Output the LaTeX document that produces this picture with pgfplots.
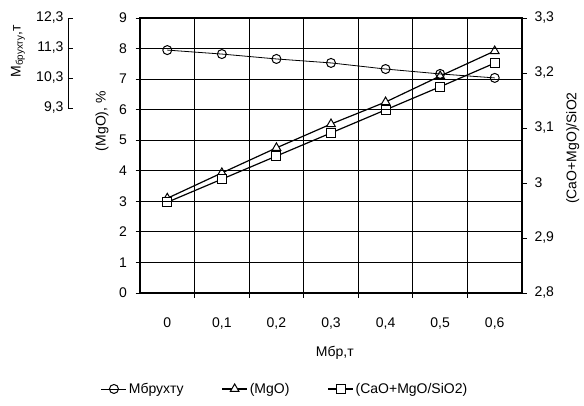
\documentclass[border=0pt]{standalone}
\usepackage{fontspec}
\setmainfont{Liberation Sans}
\usepackage{pgfplots}
\pgfplotsset{compat=1.18}

% x = 0..6 stands for Mбр = 0..0.6 t
\pgfplotstableread{
x  m      mgo   basic
0  11.25  3.10  2.965
1  11.12  3.93  3.007
2  10.96  4.75  3.049
3  10.83  5.53  3.091
4  10.63  6.25  3.133
5  10.47  7.10  3.175
6  10.34  7.92  3.218
}\data

\tikzset{txt/.style={font=\fontsize{14}{16}\selectfont}}
\pgfplotsset{
  box/.style={scale only axis, width=382pt, height=275pt,
    xmin=-0.5, xmax=6.5, at={(140pt,-293pt)}, anchor=south west},
  sC/.style={black, line width=0.8pt, mark=o, mark size=4.5pt, mark options={solid, fill=white, line width=1pt}},
  sT/.style={black, line width=1.2pt, mark=triangle*, mark size=5pt, mark options={solid, fill=white, line width=1pt}},
  sS/.style={black, line width=1.2pt, mark=square*, mark size=4.5pt, mark options={solid, fill=white, line width=1pt}},
}

\begin{document}
\begin{tikzpicture}
\path[use as bounding box] (0pt,0pt) rectangle (584pt,-406pt);

% main axis, (MgO) %
\begin{axis}[box, ymin=0, ymax=9,
  xtick={0.5,1.5,2.5,3.5,4.5,5.5}, xticklabels={},
  extra x ticks={0,1,2,3,4,5,6},
  extra x tick labels={0,{0,1},{0,2},{0,3},{0,4},{0,5},{0,6}},
  extra x tick style={major tick length=0pt},
  ytick={0,...,9},
  axis line style={line width=1.3pt},
  tick pos=left, tick align=outside,
  major tick length=4.5pt,
  tick style={black, line width=0.8pt},
  ticklabel style={txt},
  xticklabel style={yshift=-21pt},
  yticklabel style={xshift=-5pt},
  /pgf/number format/assume math mode=true,
  xlabel={Мбр,т}, ylabel={(MgO), \%},
  every axis x label/.style={at={(axis description cs:0.51,-0.218)}, anchor=center, txt},
  every axis y label/.style={at={(axis description cs:-0.0995,0.625)}, anchor=center, rotate=90, txt},
  legend style={at={(0.38,-0.349)}, anchor=center, draw=none, fill=none,
    legend columns=3, txt, /tikz/every even column/.append style={column sep=36pt}},
  legend cell align=left,
  legend image code/.code={
    \draw[mark repeat=2,mark phase=2,#1] plot coordinates {(0pt,0pt) (12.5pt,0pt) (25pt,0pt)};},
]
\addlegendimage{sC}
\addlegendentry{Мбрухту}
\addplot[sT] table[x=x, y=mgo] {\data};
\addlegendentry{(MgO)}
\addlegendimage{sS}
\addlegendentry{(CaO+MgO/SiO2)}
\end{axis}

% right axis, (CaO+MgO)/SiO2
\begin{axis}[box, ymin=2.8, ymax=3.3,
  axis x line=none, axis y line*=right,
  ytick={2.8,2.9,3.0,3.1,3.2,3.3},
  yticklabels={{2,8},{2,9},3,{3,1},{3,2},{3,3}},
  axis line style={line width=2.6pt},
  tick align=outside, major tick length=5pt,
  tick style={black, line width=0.8pt},
  ticklabel style={txt},
  yticklabel style={xshift=4pt},
  ylabel={(CaO+MgO)/SiO2},
  every axis y label/.style={at={(axis description cs:1.133,0.527)}, anchor=center, rotate=90, txt},
]
\addplot[sS] table[x=x, y=basic] {\data};
\end{axis}

% grid on the 0..9 scale, drawn after the other plots
\begin{axis}[box, ymin=0, ymax=9, hide axis, clip=false]
\foreach \k in {1,2,3,4,5,6,7,8}{
  \edef\tmp{\noexpand\draw[black, line width=0.9pt] (axis cs:-0.5,\k) -- (axis cs:6.5,\k);}\tmp}
\foreach \k in {0.5,1.5,2.5,3.5,4.5,5.5}{
  \edef\tmp{\noexpand\draw[black, line width=0.9pt] (axis cs:\k,0) -- (axis cs:\k,9);}\tmp}
\end{axis}

% Мбрухту data on the shifted scale (9.3..12.3 matches 6..9)
\begin{axis}[box, ymin=3.3, ymax=12.3, hide axis]
\addplot[sC] table[x=x, y=m] {\data};
\end{axis}

% far-left axis, Мбрухту, т
\begin{axis}[scale only axis, width=10pt, height=90pt,
  at={(68pt,-108pt)}, anchor=south west,
  xmin=0, xmax=1, ymin=9.3, ymax=12.3,
  axis x line=none, axis y line*=left,
  ytick={9.3,10.3,11.3,12.3},
  yticklabels={{9,3},{10,3},{11,3},{12,3}},
  axis line style={line width=0.9pt},
  tick align=inside, major tick length=5pt,
  tick style={black, line width=0.8pt},
  ticklabel style={txt},
  yticklabel style={xshift=-1pt},
  ylabel={М\textsubscript{брухту},т},
  every axis y label/.style={at={(axis description cs:-5.0,0.633)}, anchor=center, rotate=90, txt},
]
\end{axis}
\end{tikzpicture}
\end{document}
